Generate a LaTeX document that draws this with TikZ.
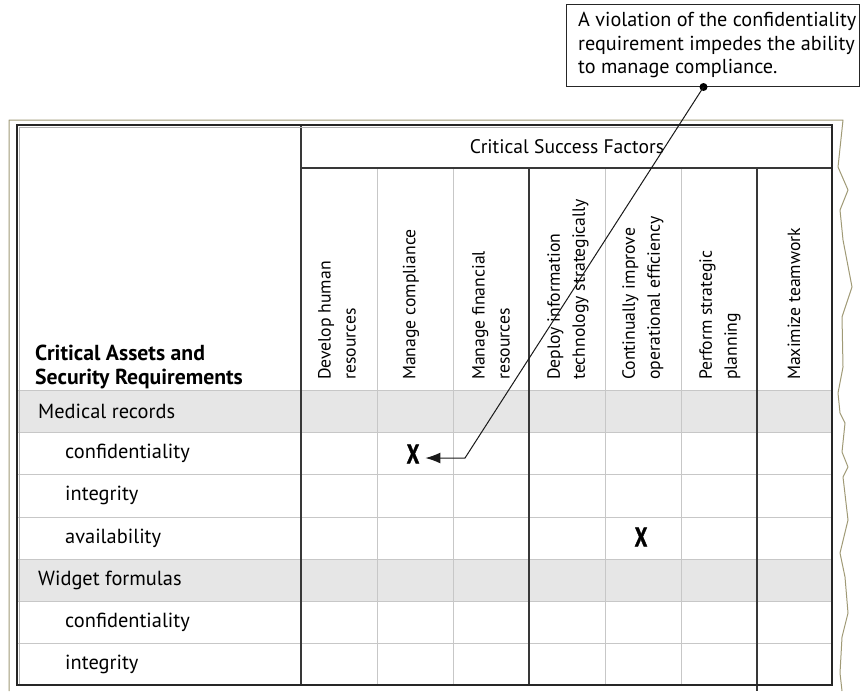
\documentclass[tikz,border=0pt]{standalone}
\usepackage{fontspec}
\setmainfont{PT Sans}
\newfontfamily\heavyfont[FakeBold=1.6]{PT Sans Bold}
\usetikzlibrary{arrows.meta,calc}

\definecolor{framecol}{RGB}{160,154,118}
\definecolor{rowshade}{RGB}{230,230,230}

\tikzset{
  pageframe/.style={draw=framecol, line width=1pt, line join=round},
  tableborder/.style={draw=black!85, line width=1.5pt},
  innershadow/.style={draw=black!30, line width=0.8pt},
  majorline/.style={draw=black!78, line width=1.3pt},
  minorline/.style={draw=black!22, line width=0.9pt},
  rowline/.style={draw=black!22, line width=1pt},
  rowtext/.style={font=\fontsize{20.4}{25}\selectfont, inner sep=0pt},
  headtext/.style={font=\fontsize{21.7}{24}\selectfont\bfseries, align=left, inner sep=0pt},
  csftext/.style={font=\fontsize{19.6}{24}\selectfont, inner sep=0pt},
  collabel/.style={font=\fontsize{17.7}{25}\selectfont, inner sep=0pt, rotate=90, anchor=west, align=left},
  xmark/.style={font=\fontsize{27}{27}\heavyfont, inner sep=0pt, xscale=0.74},
  notebox/.style={draw=black!85, line width=1pt, minimum width=293pt, minimum height=82pt, inner sep=0pt},
  notetext/.style={font=\fontsize{20.2}{23.5}\selectfont, align=left, inner sep=0pt},
  pointer/.style={draw=black!90, line width=1pt, -{Latex[length=15pt,width=11pt]}},
}

\begin{document}
\begin{tikzpicture}[x=1pt,y=-1pt]
\useasboundingbox (0,0) rectangle (861,691);

% shaded asset rows
\fill[rowshade] (17,390) rectangle (832,432);
\fill[rowshade] (17,559) rectangle (832,601);

% row separators
\foreach \y in {390,432,474,517,559,601,643}
  \draw[rowline] (17,\y) -- (832,\y);

% column separators inside each group
\foreach \x in {377,453,605,681}
  \draw[minorline] (\x,168) -- (\x,685);

% group separators and header rule
\draw[majorline] (301,125) -- (301,685);
\draw[majorline] (529,168) -- (529,685);
\draw[majorline] (757,168) -- (757,691);
\draw[majorline] (301,168) -- (832,168);

% table outline with its inner shadow
\draw[innershadow] (19.5,684) -- (19.5,127.5) -- (831,127.5);
\draw[tableborder] (17,125) rectangle (832,685);

% torn page frame
\draw[pageframe] (9,691) -- (9,120) -- (843,120)
  -- (838,167) -- (848,190) -- (840,210) -- (843,240) -- (852,287)
  -- (842,317) -- (843,367) -- (838,393) -- (840,413) -- (845,423)
  -- (842,452) -- (848,467) -- (843,477) -- (848,520) -- (840,553)
  -- (845,577) -- (848,613) -- (842,637) -- (840,673) -- (842,691);

% header texts
\node[csftext] (csf) at (567,147) {Critical Success Factors};
\node[headtext, anchor=south west] (assets) at (35,389.5) {Critical Assets and\\Security Requirements};

% critical success factor columns
\node[collabel] (c1) at (337,380) {Develop human\\resources};
\node[collabel] (c2) at (411,380) {Manage compliance};
\node[collabel] (c3) at (491,380) {Manage financial\\resources};
\node[collabel] (c4) at (568,380) {Deploy information\\technology strategically};
\node[collabel] (c5) at (643,380) {Continually improve\\operational efficiency};
\node[collabel] (c6) at (720,380) {Perform strategic\\planning};
\node[collabel] (c7) at (794,380) {Maximize teamwork};

% assets and their security requirements
\node[rowtext, anchor=west] (r1) at (38,411) {Medical records};
\node[rowtext, anchor=west] (r2) at (65,453) {confidentiality};
\node[rowtext, anchor=west] (r3) at (65,495) {integrity};
\node[rowtext, anchor=west] (r4) at (65,538) {availability};
\node[rowtext, anchor=west] (r5) at (38,580) {Widget formulas};
\node[rowtext, anchor=west] (r6) at (65,622) {confidentiality};
\node[rowtext, anchor=west] (r7) at (65,664) {integrity};

% impact marks
\node[xmark] (x1) at (413,454) {X};
\node[xmark] (x2) at (641,537) {X};

% explanatory note and its pointer
\node[notebox, anchor=north west] (note) at (566,4) {};
\node[notetext, anchor=north west] (notetxt) at (578,12) {A violation of the confidentiality\\requirement impedes the ability\\to manage compliance.};
\coordinate (pin) at ([xshift=-9.5pt]note.south);
\coordinate (bend) at (465,458);
\fill[black] (pin) circle (4pt);
\draw[pointer, shorten >=6pt] (pin) -- (bend) -- (bend -| x1.east);
\end{tikzpicture}
\end{document}
